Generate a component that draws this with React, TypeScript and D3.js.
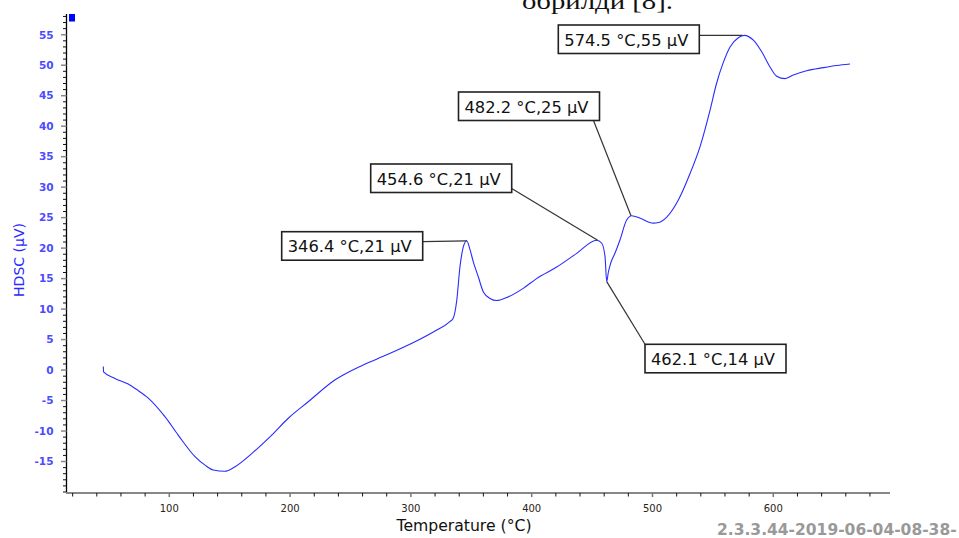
import React from "react";
import * as d3 from "d3";

// ---- data ----
const temps = [45.4, 45.6, 55, 66, 73, 82.6, 96.4, 107.5, 121.3, 129.6, 136.4, 146, 154.4, 168.2, 184.8, 198.5, 215, 237, 260, 280, 300, 320, 332, 335, 338, 340.6, 343.4, 346.2, 349, 351.6, 355.8, 360, 365.5, 371, 379.3, 393, 404, 420.7, 437, 453.8, 458, 460.7, 462.1, 463.4, 465.5, 469, 473, 478.6, 482.8, 489.8, 500.7, 505, 511.8, 521.4, 531, 539.3, 547.6, 553, 558.7, 564.2, 571, 576, 583.5, 590.4, 597.3, 602.8, 609.7, 616.6, 627.6, 641.4, 652.5, 663.5];
const hdsc = [0.6, -0.3, -1.37, -2.3, -3.2, -4.6, -7.65, -10.7, -14.2, -15.6, -16.4, -16.6, -15.85, -13.7, -10.66, -7.9, -5.2, -1.64, 0.8, 2.5, 4.3, 6.4, 7.9, 8.5, 11.5, 16.9, 20.2, 21.2, 19.7, 17.8, 15.3, 12.8, 11.75, 11.4, 11.9, 13.4, 15.0, 16.9, 19.1, 21.3, 20.8, 18.6, 14.5, 16.0, 17.6, 19.2, 21.3, 24.6, 25.3, 24.9, 24.1, 24.2, 25.1, 27.9, 32.2, 36.6, 42.6, 47, 50.5, 53, 54.5, 54.9, 54.1, 52.2, 49.7, 48.2, 47.8, 48.4, 49.1, 49.6, 49.95, 50.2];

const yMajorTicks = [-15, -10, -5, 0, 5, 10, 15, 20, 25, 30, 35, 40, 45, 50, 55];
const xMajorTicks = [100, 200, 300, 400, 500, 600];

const annLabels = ["346.4 °C,21 µV", "454.6 °C,21 µV", "462.1 °C,14 µV", "482.2 °C,25 µV", "574.5 °C,55 µV"];
const annT = [346.4, 454.6, 462.1, 482.2, 574.5];
const annV = [21.2, 21.3, 14.5, 25.3, 54.9];

// ---- layout (box positions & leader attach points) ----
const annLayout = [
  { bx: 281.7, by: 231.7, ax: 422.7, ay: 241.7 },
  { bx: 370.7, by: 164, ax: 511.3, ay: 188.3 },
  { bx: 645, by: 344.3, ax: 645, ay: 344.3 },
  { bx: 458.5, by: 92, ax: 593.3, ay: 120 },
  { bx: 558.3, by: 25, ax: 699.3, ay: 35.3 },
];

const W = 959;
const H = 538;

export default function App() {
  const x = d3.scaleLinear().domain([14.5, 696.6]).range([66, 890]);
  const y = d3.scaleLinear().domain([-20, 58.4]).range([492, 14]);

  const pts: [number, number][] = temps.map((t, i) => [t, hdsc[i]]);
  const line = d3
    .line<[number, number]>()
    .x((d) => x(d[0]))
    .y((d) => y(d[1]))
    .curve(d3.curveMonotoneX);

  const yMinor = d3.range(-20, 59, 1).filter((v) => v % 5 !== 0 || v === -20);
  const xMinor = d3.range(20, 700, 20).filter((v) => v % 100 !== 0);

  const font = "Verdana, 'DejaVu Sans', sans-serif";

  return (
    <svg
      width={W}
      height={H}
      style={{ position: "absolute", left: 0, top: 0, background: "#fff" }}
    >
      {/* text from document above */}
      <text
        x={522}
        y={9}
        fontFamily="'Liberation Serif', 'Times New Roman', serif"
        fontSize={23}
        fill="#111"
        textLength={151}
        lengthAdjust="spacingAndGlyphs"
      >
        обрилди [8].
      </text>

      {/* blue marker */}
      <rect x={69} y={14} width={6} height={7.5} fill="#0000ff" />

      {/* y axis */}
      <line x1={66.5} y1={14} x2={66.5} y2={492.5} stroke="#000" strokeWidth={1.3} />
      {yMinor.map((v) => (
        <line key={"ym" + v} x1={63} x2={66.5} y1={y(v)} y2={y(v)} stroke="#111" strokeWidth={1} />
      ))}
      {yMajorTicks.map((v) => (
        <g key={"yM" + v}>
          <line x1={61} x2={66.5} y1={y(v)} y2={y(v)} stroke="#888" strokeWidth={1.5} />
          <text
            x={53.5}
            y={y(v)}
            dy="0.36em"
            textAnchor="end"
            fontFamily={font}
            fontSize={10.5}
            fontWeight={600}
            fill="#4b4bff"
          >
            {v}
          </text>
        </g>
      ))}
      <text
        transform={`translate(24,260) rotate(-90)`}
        textAnchor="middle"
        fontFamily={font}
        fontSize={14}
        fill="#2a2aff"
      >
        HDSC (µV)
      </text>

      {/* x axis */}
      <line x1={66} y1={493} x2={890} y2={493} stroke="#888" strokeWidth={2} />
      {xMinor.map((v) => (
        <line key={"xm" + v} x1={x(v)} x2={x(v)} y1={493} y2={496.5} stroke="#111" strokeWidth={1} />
      ))}
      {xMajorTicks.map((v) => (
        <g key={"xM" + v}>
          <line x1={x(v)} x2={x(v)} y1={493} y2={497} stroke="#777" strokeWidth={1.5} />
          <text
            x={x(v)}
            y={511.5}
            textAnchor="middle"
            fontFamily={font}
            fontSize={10}
            fill="#2b2215"
          >
            {v}
          </text>
        </g>
      ))}
      <text
        x={464}
        y={531}
        textAnchor="middle"
        fontFamily={font}
        fontSize={15}
        fill="#111"
        textLength={135}
        lengthAdjust="spacingAndGlyphs"
      >
        Temperature (°C)
      </text>

      {/* curve */}
      <path d={line(pts) || ""} fill="none" stroke="#2a2aff" strokeWidth={1.1} />

      {/* annotations */}
      {annLabels.map((lab, i) => {
        const L = annLayout[i];
        return (
          <g key={"ann" + i}>
            <line
              x1={L.ax}
              y1={L.ay}
              x2={x(annT[i])}
              y2={y(annV[i])}
              stroke="#333"
              strokeWidth={1.2}
            />
            <rect
              x={L.bx}
              y={L.by}
              width={141}
              height={28.5}
              fill="#fff"
              stroke="#222"
              strokeWidth={1.6}
            />
            <text
              x={L.bx + 6}
              y={L.by + 20.5}
              fontFamily={font}
              fontSize={16}
              fill="#111"
              textLength={124}
              lengthAdjust="spacingAndGlyphs"
            >
              {lab}
            </text>
          </g>
        );
      })}

      {/* bottom-right version stamp */}
      <text
        x={717}
        y={535}
        fontFamily={font}
        fontSize={15.5}
        fontWeight="bold"
        fill="#999"
      >
        2.3.3.44-2019-06-04-08-38-
      </text>
    </svg>
  );
}
